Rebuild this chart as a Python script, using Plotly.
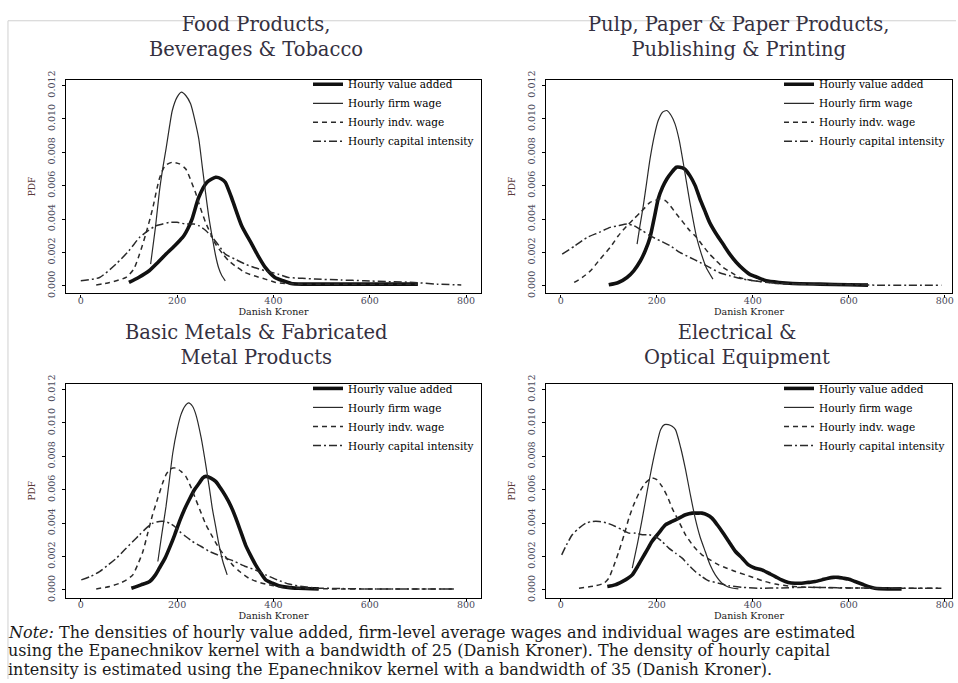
import plotly.graph_objects as go

# ---------------- data ----------------
SERIES_NAMES = ["Hourly value added", "Hourly firm wage", "Hourly indv. wage", "Hourly capital intensity"]
PANEL_TITLES = ["Food Products,<br>Beverages & Tobacco",
                "Pulp, Paper & Paper Products,<br>Publishing & Printing",
                "Basic Metals & Fabricated<br>Metal Products",
                "Electrical &<br>Optical Equipment"]
X_TICKS = [0, 200, 400, 600, 800]
Y_TICKS = [0.000, 0.002, 0.004, 0.006, 0.008, 0.010, 0.012]
X_TITLE = "Danish Kroner"
Y_TITLE = "PDF"
NOTE_LINES = [
    "<i>Note:</i> The densities of hourly value added, firm-level average wages and individual wages are estimated",
    "using the Epanechnikov kernel with a bandwidth of 25 (Danish Kroner). The density of hourly capital",
    "intensity is estimated using the Epanechnikov kernel with a bandwidth of 35 (Danish Kroner).",
]

# Panel 1: Food Products, Beverages & Tobacco
FOOD_VA_X = [100, 120, 142, 160, 177, 195, 205, 214, 222, 231, 245, 262, 280, 292, 300, 314, 334, 355, 370, 383, 403, 420, 437, 460, 500, 550, 600, 650, 700]
FOOD_VA_Y = [0.0002, 0.0005, 0.0009, 0.0014, 0.0019, 0.0024, 0.0027, 0.0030, 0.0034, 0.0040, 0.0053, 0.0062, 0.0065, 0.0064, 0.0062, 0.0052, 0.0036, 0.0025, 0.0017, 0.0011, 0.0005, 0.0003, 0.00014, 0.0001, 0.0001, 0.0001, 0.0001, 0.0001, 0.0001]
FOOD_FW_X = [145, 155, 163, 170, 177, 184, 190, 200, 209, 218, 228, 237, 245, 252, 259, 266, 273, 280, 286, 293, 300]
FOOD_FW_Y = [0.0013, 0.0035, 0.0056, 0.0070, 0.0082, 0.0095, 0.0105, 0.0113, 0.0116, 0.0114, 0.0109, 0.0099, 0.0088, 0.0072, 0.0056, 0.0041, 0.0029, 0.0018, 0.0011, 0.0006, 0.0003]
FOOD_IW_X = [32, 60, 94, 110, 122, 135, 149, 163, 175, 190, 205, 218, 230, 238, 248, 259, 270, 280, 295, 307, 325, 341, 360, 383, 405, 424, 460, 550, 650, 700]
FOOD_IW_Y = [0.00005, 0.0002, 0.0005, 0.0010, 0.0019, 0.0031, 0.0046, 0.0064, 0.0072, 0.0074, 0.0073, 0.0070, 0.0062, 0.0056, 0.0047, 0.0038, 0.0031, 0.0025, 0.0019, 0.0015, 0.0011, 0.0008, 0.0006, 0.0004, 0.0002, 0.00014, 0.0001, 0.0001, 0.0001, 0.0001]
FOOD_CI_X = [0, 39, 73, 100, 122, 140, 156, 170, 183, 200, 218, 235, 245, 260, 273, 287, 300, 320, 341, 360, 383, 410, 431, 460, 486, 540, 589, 640, 692, 740, 790]
FOOD_CI_Y = [0.0003, 0.0005, 0.0013, 0.0021, 0.0029, 0.0033, 0.0036, 0.0037, 0.0038, 0.0038, 0.0037, 0.0037, 0.0036, 0.0033, 0.0029, 0.0024, 0.0019, 0.0016, 0.0013, 0.0011, 0.0009, 0.0007, 0.0005, 0.00045, 0.0004, 0.00035, 0.0003, 0.00025, 0.0002, 0.0001, 0.00005]

# Panel 2: Pulp, Paper & Paper Products, Publishing & Printing
PULP_VA_X = [100, 120, 138, 152, 166, 176, 186, 195, 203, 212, 221, 231, 241, 248, 258, 269, 280, 290, 300, 310, 324, 338, 352, 366, 380, 393, 410, 428, 455, 483, 540, 600, 640]
PULP_VA_Y = [0.00006, 0.0002, 0.0005, 0.0009, 0.0015, 0.0021, 0.0029, 0.0041, 0.0052, 0.0059, 0.0064, 0.0068, 0.0071, 0.0071, 0.0070, 0.0066, 0.0060, 0.0052, 0.0045, 0.0038, 0.0031, 0.0025, 0.0019, 0.0014, 0.0010, 0.0007, 0.0005, 0.0003, 0.0002, 0.00014, 0.0001, 0.00006, 0.00004]
PULP_FW_X = [159, 165, 172, 179, 186, 195, 203, 212, 221, 230, 238, 247, 255, 262, 269, 276, 283, 293, 303, 317]
PULP_FW_Y = [0.0025, 0.0036, 0.0048, 0.0062, 0.0076, 0.0090, 0.0099, 0.0104, 0.0105, 0.0102, 0.0097, 0.0087, 0.0074, 0.0062, 0.0050, 0.0039, 0.0029, 0.0019, 0.0011, 0.0004]
PULP_IW_X = [28, 45, 62, 82, 103, 120, 138, 152, 166, 176, 186, 196, 207, 218, 228, 241, 255, 269, 283, 296, 310, 324, 338, 355, 372, 393, 414, 448, 500, 560, 640]
PULP_IW_Y = [0.0002, 0.0005, 0.0009, 0.0016, 0.0023, 0.0030, 0.0036, 0.0040, 0.0044, 0.0047, 0.0050, 0.0051, 0.0052, 0.0051, 0.0048, 0.0043, 0.0038, 0.0033, 0.0029, 0.0024, 0.0019, 0.0015, 0.0011, 0.0008, 0.0005, 0.00035, 0.00026, 0.00014, 0.0001, 0.0001, 0.0001]
PULP_CI_X = [3, 30, 55, 80, 103, 120, 138, 152, 170, 186, 207, 228, 248, 269, 290, 310, 330, 352, 380, 414, 460, 517, 580, 655, 720, 793]
PULP_CI_Y = [0.0019, 0.0024, 0.0029, 0.0032, 0.0035, 0.0036, 0.0037, 0.0036, 0.0033, 0.0030, 0.0027, 0.0024, 0.0020, 0.0017, 0.0014, 0.0011, 0.0008, 0.0006, 0.0004, 0.00026, 0.00015, 0.0001, 0.00006, 0.00004, 0.00004, 0.00004]

# Panel 3: Basic Metals & Fabricated Metal Products
METAL_VA_X = [105, 125, 143, 155, 163, 175, 184, 195, 205, 215, 225, 236, 246, 253, 260, 270, 280, 290, 301, 312, 322, 332, 342, 352, 363, 374, 384, 398, 411, 430, 452, 494]
METAL_VA_Y = [0.0001, 0.0003, 0.0005, 0.0009, 0.0013, 0.0019, 0.0025, 0.0033, 0.0041, 0.0048, 0.0054, 0.0060, 0.0064, 0.0067, 0.0068, 0.0067, 0.0065, 0.0061, 0.0056, 0.0050, 0.0043, 0.0035, 0.0027, 0.0021, 0.0015, 0.0010, 0.0006, 0.0004, 0.00025, 0.00015, 0.0001, 0.00006]
METAL_FW_X = [160, 168, 177, 184, 191, 200, 208, 216, 224, 232, 239, 250, 260, 267, 273, 280, 287, 295, 304]
METAL_FW_Y = [0.0017, 0.0033, 0.0050, 0.0066, 0.0082, 0.0096, 0.0105, 0.0110, 0.0112, 0.0110, 0.0105, 0.0091, 0.0074, 0.0061, 0.0049, 0.0038, 0.0027, 0.0017, 0.0009]
METAL_IW_X = [32, 60, 81, 95, 108, 118, 129, 139, 149, 160, 170, 177, 184, 191, 198, 208, 218, 228, 239, 250, 260, 273, 287, 300, 315, 330, 349, 365, 384, 410, 452, 520, 600, 680, 776]
METAL_IW_Y = [0.00006, 0.0002, 0.0004, 0.0006, 0.0009, 0.0015, 0.0023, 0.0034, 0.0045, 0.0055, 0.0064, 0.0069, 0.0072, 0.0073, 0.0073, 0.0071, 0.0068, 0.0062, 0.0054, 0.0046, 0.0039, 0.0032, 0.0025, 0.0020, 0.0015, 0.0011, 0.0007, 0.0005, 0.00035, 0.0002, 0.0001, 0.00006, 0.00006, 0.00006, 0.00006]
METAL_CI_X = [1, 20, 39, 57, 74, 91, 108, 122, 136, 150, 163, 174, 184, 195, 205, 218, 232, 250, 267, 284, 301, 320, 342, 362, 384, 408, 432, 460, 487, 540, 590, 680, 776]
METAL_CI_Y = [0.0006, 0.0008, 0.0011, 0.0015, 0.0019, 0.0024, 0.0029, 0.0033, 0.0037, 0.0040, 0.0041, 0.0041, 0.0040, 0.0038, 0.0035, 0.0032, 0.0029, 0.0026, 0.0023, 0.0021, 0.0019, 0.0017, 0.0014, 0.0012, 0.0009, 0.0006, 0.00035, 0.0002, 0.00012, 0.00008, 0.00006, 0.00006, 0.00006]

# Panel 4: Electrical & Optical Equipment
ELEC_VA_X = [97, 113, 128, 140, 149, 160, 170, 180, 190, 204, 218, 232, 246, 260, 274, 285, 294, 305, 315, 326, 336, 350, 364, 378, 391, 405, 419, 433, 447, 460, 474, 488, 502, 516, 530, 544, 557, 568, 578, 589, 599, 613, 627, 640, 654, 680, 710]
ELEC_VA_Y = [0.0002, 0.0003, 0.0005, 0.0007, 0.0009, 0.0014, 0.0019, 0.0024, 0.0029, 0.0034, 0.0039, 0.0041, 0.0043, 0.0045, 0.0046, 0.0046, 0.0046, 0.0045, 0.0043, 0.0039, 0.0035, 0.0029, 0.0023, 0.0019, 0.0015, 0.0013, 0.0012, 0.0010, 0.0008, 0.0006, 0.00045, 0.0004, 0.0004, 0.00045, 0.0005, 0.0006, 0.0007, 0.00075, 0.00075, 0.0007, 0.00065, 0.0005, 0.00035, 0.0002, 0.0001, 0.00006, 0.00006]
ELEC_FW_X = [149, 160, 170, 180, 190, 199, 208, 216, 224, 232, 239, 250, 260, 270, 280, 290, 301, 311, 322, 336, 350, 370]
ELEC_FW_Y = [0.0013, 0.0028, 0.0043, 0.0059, 0.0074, 0.0086, 0.0096, 0.0099, 0.0099, 0.0098, 0.0096, 0.0085, 0.0072, 0.0057, 0.0043, 0.0032, 0.0023, 0.0015, 0.0009, 0.0004, 0.00016, 0.00006]
ELEC_IW_X = [38, 73, 90, 100, 110, 121, 132, 142, 152, 163, 176, 190, 200, 211, 222, 232, 246, 260, 277, 294, 311, 329, 346, 364, 385, 405, 426, 447, 480, 516, 580, 654, 720, 793]
ELEC_IW_Y = [0.0001, 0.00025, 0.0004, 0.0007, 0.0014, 0.0023, 0.0033, 0.0043, 0.0051, 0.0058, 0.0064, 0.0067, 0.0066, 0.0062, 0.0056, 0.0049, 0.0041, 0.0033, 0.0026, 0.0021, 0.0018, 0.0015, 0.0013, 0.0011, 0.0009, 0.0007, 0.0005, 0.00035, 0.00022, 0.00016, 0.00012, 0.0001, 0.0001, 0.0001]
ELEC_CI_X = [2, 12, 24, 38, 52, 66, 80, 97, 114, 128, 142, 156, 170, 184, 197, 211, 225, 239, 253, 266, 280, 294, 308, 329, 350, 380, 412, 460, 516, 600, 700, 793]
ELEC_CI_Y = [0.0021, 0.0027, 0.0033, 0.0037, 0.0040, 0.0041, 0.0041, 0.0040, 0.0038, 0.0036, 0.0034, 0.0034, 0.0033, 0.0033, 0.0032, 0.0029, 0.0025, 0.0022, 0.0019, 0.0015, 0.0011, 0.0008, 0.00055, 0.0004, 0.00025, 0.00015, 0.0001, 0.00012, 0.00016, 0.00012, 0.0001, 0.0001]

PANEL_DATA = [
    [(FOOD_VA_X, FOOD_VA_Y), (FOOD_FW_X, FOOD_FW_Y), (FOOD_IW_X, FOOD_IW_Y), (FOOD_CI_X, FOOD_CI_Y)],
    [(PULP_VA_X, PULP_VA_Y), (PULP_FW_X, PULP_FW_Y), (PULP_IW_X, PULP_IW_Y), (PULP_CI_X, PULP_CI_Y)],
    [(METAL_VA_X, METAL_VA_Y), (METAL_FW_X, METAL_FW_Y), (METAL_IW_X, METAL_IW_Y), (METAL_CI_X, METAL_CI_Y)],
    [(ELEC_VA_X, ELEC_VA_Y), (ELEC_FW_X, ELEC_FW_Y), (ELEC_IW_X, ELEC_IW_Y), (ELEC_CI_X, ELEC_CI_Y)],
]

# ---------------- layout / style ----------------
W, H = 958, 683
FONT = "DejaVu Serif"
LINE_STYLES = [
    dict(color="#111111", width=3.6, dash="solid"),
    dict(color="#2a2a2a", width=1.2, dash="solid"),
    dict(color="#2a2a2a", width=1.5, dash="5px,4px"),
    dict(color="#2a2a2a", width=1.5, dash="8px,3px,2px,3px"),
]


def px_x(p):
    return p / W


def px_y(p):
    return 1 - p / H


# plot boxes in pixels (left, right, top, bottom)
BOXES = [(66, 482, 72, 290), (547, 954, 72, 290), (66, 482, 382, 600), (547, 954, 382, 600)]
X_RANGES = [[-31, 831], [-31, 815], [-31, 831], [-31, 815]]
Y_RANGE = [-0.00046, 0.01235]
TITLE_POS = [(257, 29), (740, 29), (257, 343), (739, 343)]
NOTE_Y = [635.5, 654.3, 673.1]

fig = go.Figure()
layout_updates = {}
for i, (panel, box) in enumerate(zip(PANEL_DATA, BOXES)):
    n = i + 1
    sfx = "" if n == 1 else str(n)
    legend_id = "legend" + sfx
    for (xs, ys), name, st in zip(panel, SERIES_NAMES, LINE_STYLES):
        fig.add_trace(go.Scatter(
            x=xs, y=ys, name=name, mode="lines",
            line=dict(color=st["color"], width=st["width"], dash=st["dash"],
                      shape="spline", smoothing=0.6),
            xaxis="x" + sfx, yaxis="y" + sfx, legend=legend_id,
            showlegend=True, hoverinfo="skip",
        ))
    l, r, t, b = box
    common = dict(showline=True, mirror=True, linecolor="black", linewidth=1.2,
                  ticks="outside", ticklen=3, tickcolor="black", tickwidth=1,
                  showgrid=False, zeroline=False,
                  tickfont=dict(family=FONT, size=9.5, color="#4a4a5a"))
    layout_updates["xaxis" + sfx] = dict(
        common, domain=[px_x(l), px_x(r)], range=X_RANGES[i], anchor="y" + sfx,
        tickvals=X_TICKS, ticklabelstandoff=-5,
        title=dict(text=X_TITLE, standoff=0, font=dict(family=FONT, size=9.5, color="#222")))
    layout_updates["yaxis" + sfx] = dict(
        common, domain=[px_y(b), px_y(t)], range=Y_RANGE, anchor="x" + sfx,
        tickvals=Y_TICKS, tickformat=".3f", tickangle=-90, ticklabelstandoff=3,
        title=dict(text=Y_TITLE, standoff=8, font=dict(family=FONT, size=9, color="#5a3a3a")))
    layout_updates[legend_id] = dict(
        x=px_x(r - 2), y=px_y(t - 10), xanchor="right", yanchor="top",
        bgcolor="rgba(0,0,0,0)", borderwidth=0, tracegroupgap=0,
        font=dict(family=FONT, size=10.5, color="#000"), itemwidth=30)

annotations = []
for title, (cx, cy) in zip(PANEL_TITLES, TITLE_POS):
    annotations.append(dict(text=title, x=px_x(cx), y=px_y(cy), xref="paper", yref="paper",
                            xanchor="center", yanchor="middle", showarrow=False, align="center",
                            font=dict(family=FONT, size=19.5, color="#343040")))
for line, ly in zip(NOTE_LINES, NOTE_Y):
    annotations.append(dict(text=line, x=px_x(6), y=px_y(ly), xref="paper", yref="paper",
                            xanchor="left", yanchor="middle", showarrow=False, align="left",
                            font=dict(family=FONT, size=16, color="#1a1a1a")))

shapes = [
    dict(type="line", xref="paper", yref="paper", x0=px_x(8), x1=1, y0=px_y(12), y1=px_y(12),
         line=dict(color="#d0d0d0", width=1)),
    dict(type="line", xref="paper", yref="paper", x0=px_x(8), x1=px_x(8), y0=0, y1=px_y(12),
         line=dict(color="#d0d0d0", width=1)),
]

fig.update_layout(
    width=W, height=H, margin=dict(l=0, r=0, t=0, b=0),
    paper_bgcolor="white", plot_bgcolor="white",
    font=dict(family=FONT, color="#222"),
    annotations=annotations, shapes=shapes,
    **layout_updates,
)

fig.write_html(
    "out.html",
    config={"displayModeBar": False},
    post_script="document.body.style.margin='0px';document.body.style.padding='0px';document.body.style.overflow='hidden';",
)
